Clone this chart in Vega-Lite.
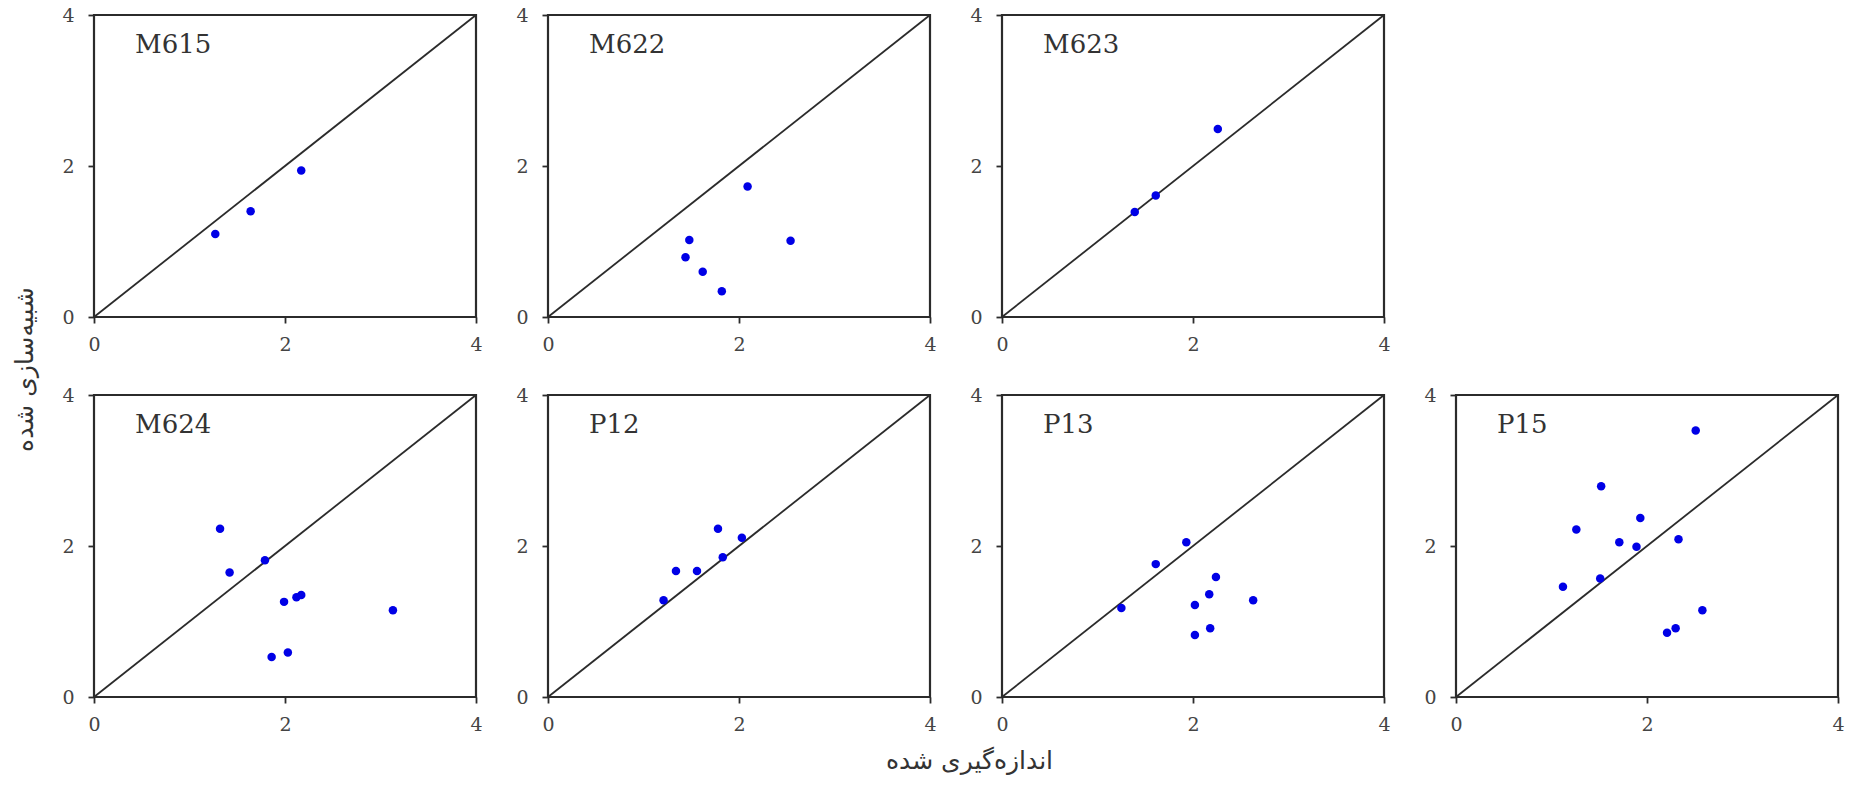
{
  "$schema": "https://vega.github.io/schema/vega-lite/v6.json",
  "padding": {"left": 10, "top": 4, "right": 5, "bottom": 5},
  "background": "white",
  "data": {"values": [
    {"station": "M615", "measured": 1.27, "simulated": 1.10},
    {"station": "M615", "measured": 1.64, "simulated": 1.40},
    {"station": "M615", "measured": 2.17, "simulated": 1.94},
    {"station": "M622", "measured": 2.09, "simulated": 1.73},
    {"station": "M622", "measured": 1.48, "simulated": 1.02},
    {"station": "M622", "measured": 1.44, "simulated": 0.79},
    {"station": "M622", "measured": 1.62, "simulated": 0.60},
    {"station": "M622", "measured": 1.82, "simulated": 0.34},
    {"station": "M622", "measured": 2.54, "simulated": 1.01},
    {"station": "M623", "measured": 2.26, "simulated": 2.49},
    {"station": "M623", "measured": 1.61, "simulated": 1.61},
    {"station": "M623", "measured": 1.39, "simulated": 1.39},
    {"station": "M624", "measured": 1.32, "simulated": 2.23},
    {"station": "M624", "measured": 1.42, "simulated": 1.65},
    {"station": "M624", "measured": 1.79, "simulated": 1.81},
    {"station": "M624", "measured": 1.99, "simulated": 1.26},
    {"station": "M624", "measured": 2.12, "simulated": 1.32},
    {"station": "M624", "measured": 2.17, "simulated": 1.35},
    {"station": "M624", "measured": 3.13, "simulated": 1.15},
    {"station": "M624", "measured": 1.86, "simulated": 0.53},
    {"station": "M624", "measured": 2.03, "simulated": 0.59},
    {"station": "P12", "measured": 1.21, "simulated": 1.28},
    {"station": "P12", "measured": 1.34, "simulated": 1.67},
    {"station": "P12", "measured": 1.56, "simulated": 1.67},
    {"station": "P12", "measured": 1.83, "simulated": 1.85},
    {"station": "P12", "measured": 1.78, "simulated": 2.23},
    {"station": "P12", "measured": 2.03, "simulated": 2.11},
    {"station": "P13", "measured": 1.25, "simulated": 1.18},
    {"station": "P13", "measured": 1.61, "simulated": 1.76},
    {"station": "P13", "measured": 1.93, "simulated": 2.05},
    {"station": "P13", "measured": 2.24, "simulated": 1.59},
    {"station": "P13", "measured": 2.17, "simulated": 1.36},
    {"station": "P13", "measured": 2.02, "simulated": 1.22},
    {"station": "P13", "measured": 2.63, "simulated": 1.28},
    {"station": "P13", "measured": 2.18, "simulated": 0.91},
    {"station": "P13", "measured": 2.02, "simulated": 0.82},
    {"station": "P15", "measured": 2.51, "simulated": 3.53},
    {"station": "P15", "measured": 1.52, "simulated": 2.79},
    {"station": "P15", "measured": 1.93, "simulated": 2.37},
    {"station": "P15", "measured": 1.26, "simulated": 2.22},
    {"station": "P15", "measured": 1.71, "simulated": 2.05},
    {"station": "P15", "measured": 1.89, "simulated": 1.99},
    {"station": "P15", "measured": 2.33, "simulated": 2.09},
    {"station": "P15", "measured": 1.51, "simulated": 1.57},
    {"station": "P15", "measured": 1.12, "simulated": 1.46},
    {"station": "P15", "measured": 2.58, "simulated": 1.15},
    {"station": "P15", "measured": 2.30, "simulated": 0.91},
    {"station": "P15", "measured": 2.21, "simulated": 0.85}
  ]},
  "columns": 4,
  "spacing": {"row": 78, "column": 72},
  "bounds": "flush",
  "concat": [
    {"width": 382, "height": 302, "layer": [
      {"data": {"values": [{}]}, "mark": {"type": "rule", "color": "#2b2b2b", "strokeWidth": 1.8},
       "encoding": {"x": {"datum": 0, "type": "quantitative", "scale": {"domain": [0, 4], "nice": false}, "axis": {"values": [0, 2, 4], "format": "d", "title": null}},
                    "y": {"datum": 0, "type": "quantitative", "scale": {"domain": [0, 4], "nice": false}, "axis": {"values": [0, 2, 4], "format": "d", "title": null}},
                    "x2": {"datum": 4}, "y2": {"datum": 4}}},
      {"transform": [{"filter": "datum.station === 'M615'"}], "mark": {"type": "circle", "color": "#0000e6", "size": 72, "opacity": 1},
       "encoding": {"x": {"field": "measured", "type": "quantitative"}, "y": {"field": "simulated", "type": "quantitative"}}},
      {"data": {"values": [{}]}, "mark": {"type": "text", "text": "M615", "font": "DejaVu Serif", "fontSize": 26, "color": "#333", "align": "left", "baseline": "alphabetic"},
       "encoding": {"x": {"datum": 0.43, "type": "quantitative"}, "y": {"datum": 3.5, "type": "quantitative"}}}
    ]},
    {"width": 382, "height": 302, "layer": [
      {"data": {"values": [{}]}, "mark": {"type": "rule", "color": "#2b2b2b", "strokeWidth": 1.8},
       "encoding": {"x": {"datum": 0, "type": "quantitative", "scale": {"domain": [0, 4], "nice": false}, "axis": {"values": [0, 2, 4], "format": "d", "title": null}},
                    "y": {"datum": 0, "type": "quantitative", "scale": {"domain": [0, 4], "nice": false}, "axis": {"values": [0, 2, 4], "format": "d", "title": null}},
                    "x2": {"datum": 4}, "y2": {"datum": 4}}},
      {"transform": [{"filter": "datum.station === 'M622'"}], "mark": {"type": "circle", "color": "#0000e6", "size": 72, "opacity": 1},
       "encoding": {"x": {"field": "measured", "type": "quantitative"}, "y": {"field": "simulated", "type": "quantitative"}}},
      {"data": {"values": [{}]}, "mark": {"type": "text", "text": "M622", "font": "DejaVu Serif", "fontSize": 26, "color": "#333", "align": "left", "baseline": "alphabetic"},
       "encoding": {"x": {"datum": 0.43, "type": "quantitative"}, "y": {"datum": 3.5, "type": "quantitative"}}}
    ]},
    {"width": 382, "height": 302, "layer": [
      {"data": {"values": [{}]}, "mark": {"type": "rule", "color": "#2b2b2b", "strokeWidth": 1.8},
       "encoding": {"x": {"datum": 0, "type": "quantitative", "scale": {"domain": [0, 4], "nice": false}, "axis": {"values": [0, 2, 4], "format": "d", "title": null}},
                    "y": {"datum": 0, "type": "quantitative", "scale": {"domain": [0, 4], "nice": false}, "axis": {"values": [0, 2, 4], "format": "d", "title": null}},
                    "x2": {"datum": 4}, "y2": {"datum": 4}}},
      {"transform": [{"filter": "datum.station === 'M623'"}], "mark": {"type": "circle", "color": "#0000e6", "size": 72, "opacity": 1},
       "encoding": {"x": {"field": "measured", "type": "quantitative"}, "y": {"field": "simulated", "type": "quantitative"}}},
      {"data": {"values": [{}]}, "mark": {"type": "text", "text": "M623", "font": "DejaVu Serif", "fontSize": 26, "color": "#333", "align": "left", "baseline": "alphabetic"},
       "encoding": {"x": {"datum": 0.43, "type": "quantitative"}, "y": {"datum": 3.5, "type": "quantitative"}}}
    ]},
    {"width": 382, "height": 302, "data": {"values": []}, "view": {"stroke": null}, "mark": {"type": "point", "opacity": 0}, "encoding": {}},
    {"width": 382, "height": 302, "layer": [
      {"data": {"values": [{}]}, "mark": {"type": "rule", "color": "#2b2b2b", "strokeWidth": 1.8},
       "encoding": {"x": {"datum": 0, "type": "quantitative", "scale": {"domain": [0, 4], "nice": false}, "axis": {"values": [0, 2, 4], "format": "d", "title": null}},
                    "y": {"datum": 0, "type": "quantitative", "scale": {"domain": [0, 4], "nice": false}, "axis": {"values": [0, 2, 4], "format": "d", "title": "شبیه‌سازی شده", "titleFont": "DejaVu Sans", "titleFontSize": 25, "titleFontWeight": "normal", "titleColor": "#333", "titleAngle": 270, "titleAlign": "center", "titleBaseline": "middle", "titleX": -70, "titleY": -26}},
                    "x2": {"datum": 4}, "y2": {"datum": 4}}},
      {"transform": [{"filter": "datum.station === 'M624'"}], "mark": {"type": "circle", "color": "#0000e6", "size": 72, "opacity": 1},
       "encoding": {"x": {"field": "measured", "type": "quantitative"}, "y": {"field": "simulated", "type": "quantitative"}}},
      {"data": {"values": [{}]}, "mark": {"type": "text", "text": "M624", "font": "DejaVu Serif", "fontSize": 26, "color": "#333", "align": "left", "baseline": "alphabetic"},
       "encoding": {"x": {"datum": 0.43, "type": "quantitative"}, "y": {"datum": 3.5, "type": "quantitative"}}}
    ]},
    {"width": 382, "height": 302, "layer": [
      {"data": {"values": [{}]}, "mark": {"type": "rule", "color": "#2b2b2b", "strokeWidth": 1.8},
       "encoding": {"x": {"datum": 0, "type": "quantitative", "scale": {"domain": [0, 4], "nice": false}, "axis": {"values": [0, 2, 4], "format": "d", "title": "اندازه‌گیری شده", "titleFont": "DejaVu Sans", "titleFontSize": 25, "titleFontWeight": "normal", "titleColor": "#333", "titleAlign": "center", "titleBaseline": "middle", "titleX": 421, "titleY": 63}},
                    "y": {"datum": 0, "type": "quantitative", "scale": {"domain": [0, 4], "nice": false}, "axis": {"values": [0, 2, 4], "format": "d", "title": null}},
                    "x2": {"datum": 4}, "y2": {"datum": 4}}},
      {"transform": [{"filter": "datum.station === 'P12'"}], "mark": {"type": "circle", "color": "#0000e6", "size": 72, "opacity": 1},
       "encoding": {"x": {"field": "measured", "type": "quantitative"}, "y": {"field": "simulated", "type": "quantitative"}}},
      {"data": {"values": [{}]}, "mark": {"type": "text", "text": "P12", "font": "DejaVu Serif", "fontSize": 26, "color": "#333", "align": "left", "baseline": "alphabetic"},
       "encoding": {"x": {"datum": 0.43, "type": "quantitative"}, "y": {"datum": 3.5, "type": "quantitative"}}}
    ]},
    {"width": 382, "height": 302, "layer": [
      {"data": {"values": [{}]}, "mark": {"type": "rule", "color": "#2b2b2b", "strokeWidth": 1.8},
       "encoding": {"x": {"datum": 0, "type": "quantitative", "scale": {"domain": [0, 4], "nice": false}, "axis": {"values": [0, 2, 4], "format": "d", "title": null}},
                    "y": {"datum": 0, "type": "quantitative", "scale": {"domain": [0, 4], "nice": false}, "axis": {"values": [0, 2, 4], "format": "d", "title": null}},
                    "x2": {"datum": 4}, "y2": {"datum": 4}}},
      {"transform": [{"filter": "datum.station === 'P13'"}], "mark": {"type": "circle", "color": "#0000e6", "size": 72, "opacity": 1},
       "encoding": {"x": {"field": "measured", "type": "quantitative"}, "y": {"field": "simulated", "type": "quantitative"}}},
      {"data": {"values": [{}]}, "mark": {"type": "text", "text": "P13", "font": "DejaVu Serif", "fontSize": 26, "color": "#333", "align": "left", "baseline": "alphabetic"},
       "encoding": {"x": {"datum": 0.43, "type": "quantitative"}, "y": {"datum": 3.5, "type": "quantitative"}}}
    ]},
    {"width": 382, "height": 302, "layer": [
      {"data": {"values": [{}]}, "mark": {"type": "rule", "color": "#2b2b2b", "strokeWidth": 1.8},
       "encoding": {"x": {"datum": 0, "type": "quantitative", "scale": {"domain": [0, 4], "nice": false}, "axis": {"values": [0, 2, 4], "format": "d", "title": null}},
                    "y": {"datum": 0, "type": "quantitative", "scale": {"domain": [0, 4], "nice": false}, "axis": {"values": [0, 2, 4], "format": "d", "title": null}},
                    "x2": {"datum": 4}, "y2": {"datum": 4}}},
      {"transform": [{"filter": "datum.station === 'P15'"}], "mark": {"type": "circle", "color": "#0000e6", "size": 72, "opacity": 1},
       "encoding": {"x": {"field": "measured", "type": "quantitative"}, "y": {"field": "simulated", "type": "quantitative"}}},
      {"data": {"values": [{}]}, "mark": {"type": "text", "text": "P15", "font": "DejaVu Serif", "fontSize": 26, "color": "#333", "align": "left", "baseline": "alphabetic"},
       "encoding": {"x": {"datum": 0.43, "type": "quantitative"}, "y": {"datum": 3.5, "type": "quantitative"}}}
    ]}
  ],
  "config": {
    "view": {"stroke": "#2b2b2b", "strokeWidth": 2.2},
    "axis": {"domain": false, "grid": false, "ticks": true, "tickSize": 6, "tickColor": "#2b2b2b", "tickWidth": 1.8,
             "labelFont": "DejaVu Serif", "labelFontSize": 19, "labelColor": "#444", "labelPadding": 12,
             "labelFlush": false, "labelOverlap": false},
    "axisY": {"labelPadding": 14}
  }
}
